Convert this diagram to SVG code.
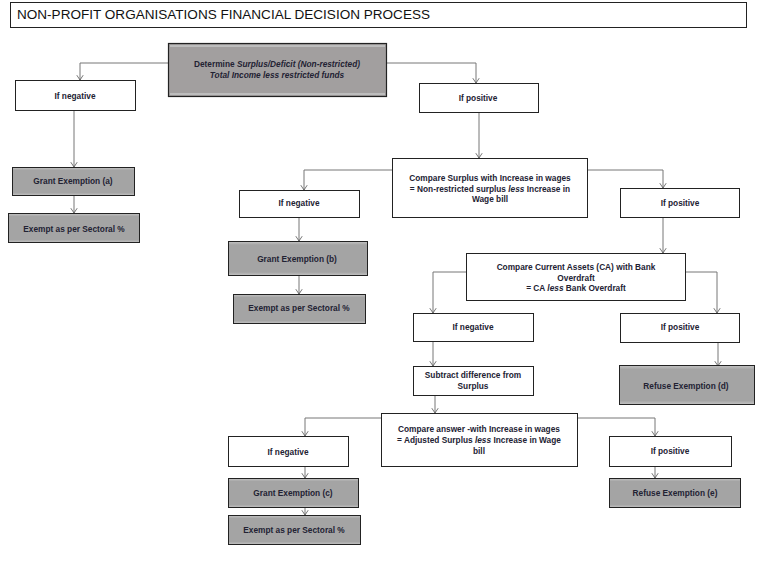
<svg xmlns="http://www.w3.org/2000/svg" width="766" height="571" viewBox="0 0 766 571">
<defs>
<linearGradient id="g" x1="0" y1="0" x2="0" y2="1">
<stop offset="0" stop-color="#c4c4c4"/><stop offset="0.1" stop-color="#a4a4a4"/><stop offset="0.9" stop-color="#a4a4a4"/><stop offset="1" stop-color="#c4c4c4"/>
</linearGradient>
<marker id="v" viewBox="-5 -7 10 8" refX="0" refY="0" markerWidth="8" markerHeight="6.4" markerUnits="userSpaceOnUse" orient="0">
<path d="M-4,-6 L0,0 L4,-6" fill="none" stroke="#555" stroke-width="1"/>
</marker>
</defs>
<style>
.w{fill:#fff;stroke:#222;stroke-width:1}
.gr{fill:url(#g);stroke:#222;stroke-width:1}
.t{font-family:"Liberation Sans",Arial,sans-serif;font-size:8.3px;font-weight:bold;fill:#222233;text-anchor:middle}
.i{font-style:italic}
.c{fill:none;stroke:#777;stroke-width:1;marker-end:url(#v)}
</style>
<rect width="766" height="571" fill="#fff"/>
<g id="title">
<rect x="10.5" y="2.5" width="736" height="25" fill="#fff" stroke="#222" stroke-width="1"/>
<text x="17" y="19" font-family="'Liberation Sans',Arial,sans-serif" font-size="12.5" fill="#111" textLength="413" lengthAdjust="spacingAndGlyphs">NON-PROFIT ORGANISATIONS FINANCIAL DECISION PROCESS</text>
</g>
<g id="connectors">
<path class="c" d="M168,63 H80 V80"/>
<path class="c" d="M387,63 H476 V83"/>
<path class="c" d="M74,110 V167"/>
<path class="c" d="M74,196 V213"/>
<path class="c" d="M479,113 V158"/>
<path class="c" d="M392,170 H304 V190"/>
<path class="c" d="M588,170 H663 V188"/>
<path class="c" d="M299,217 V241"/>
<path class="c" d="M299,276 V294"/>
<path class="c" d="M663,218 V253"/>
<path class="c" d="M466,272 H433 V313"/>
<path class="c" d="M686,272 H717 V313"/>
<path class="c" d="M433,341 V366"/>
<path class="c" d="M718,342 V366"/>
<path class="c" d="M435,395 V413"/>
<path class="c" d="M381,418 H305 V436"/>
<path class="c" d="M577,418 H655 V436"/>
<path class="c" d="M305,466 V478"/>
<path class="c" d="M305,507 V515"/>
<path class="c" d="M655,466 V478"/>
</g>
<g id="n_start">
<rect x="168.5" y="43.5" width="218" height="53" fill="#a29f9f" stroke="#222" stroke-width="1.2"/>
<rect x="170" y="45" width="215" height="2" fill="#bdbdbd"/><rect x="170" y="93" width="215" height="2" fill="#bdbdbd"/>
<text class="t" x="277" y="67">Determine <tspan class="i">Surplus/Deficit (Non-restricted)</tspan></text>
<text class="t i" x="277" y="78">Total Income less restricted funds</text>
</g>
<g id="n_neg1"><rect class="w" x="15.5" y="80.5" width="120" height="30"/><text class="t" x="75" y="99">If negative</text></g>
<g id="n_granta"><rect class="gr" x="12.5" y="167.5" width="122" height="28"/><text class="t" x="73" y="184">Grant Exemption (a)</text></g>
<g id="n_exempta"><rect class="gr" x="8.5" y="213.5" width="131" height="29"/><text class="t" x="74" y="232">Exempt as per Sectoral %</text></g>
<g id="n_pos1"><rect class="w" x="419.5" y="83.5" width="119" height="29"/><text class="t" x="478" y="101">If positive</text></g>
<g id="n_cmp1"><rect class="w" x="392.5" y="158.5" width="195" height="59"/>
<text class="t" x="490" y="181">Compare Surplus with Increase in wages</text>
<text class="t" x="490" y="191.5">= Non-restricted surplus <tspan class="i">less</tspan> Increase in</text>
<text class="t" x="490" y="201.5">Wage bill</text></g>
<g id="n_neg2"><rect class="w" x="239.5" y="190.5" width="120" height="27"/><text class="t" x="299" y="206">If negative</text></g>
<g id="n_grantb"><rect class="gr" x="228.5" y="241.5" width="139" height="34"/><text class="t" x="297" y="262">Grant Exemption (b)</text></g>
<g id="n_exemptb"><rect class="gr" x="233.5" y="294.5" width="132" height="29"/><text class="t" x="299" y="311">Exempt as per Sectoral %</text></g>
<g id="n_pos2"><rect class="w" x="620.5" y="188.5" width="119" height="29"/><text class="t" x="680" y="206">If positive</text></g>
<g id="n_cmp2"><rect class="w" x="466.5" y="253.5" width="219" height="47"/>
<text class="t" x="576" y="270">Compare Current Assets (CA) with Bank</text>
<text class="t" x="576" y="280.5">Overdraft</text>
<text class="t" x="576" y="291">= CA <tspan class="i">less</tspan> Bank Overdraft</text></g>
<g id="n_neg3"><rect class="w" x="413.5" y="313.5" width="120" height="28"/><text class="t" x="473" y="330">If negative</text></g>
<g id="n_pos3"><rect class="w" x="620.5" y="313.5" width="119" height="29"/><text class="t" x="680" y="330">If positive</text></g>
<g id="n_refused"><rect class="gr" x="619.5" y="365.5" width="135" height="39"/><text class="t" x="686" y="389">Refuse Exemption (d)</text></g>
<g id="n_sub"><rect class="w" x="413.5" y="366.5" width="120" height="29"/>
<text class="t" x="473" y="378">Subtract difference from</text>
<text class="t" x="473" y="389">Surplus</text></g>
<g id="n_cmp3"><rect class="w" x="381.5" y="413.5" width="196" height="53"/>
<text class="t" x="479" y="432">Compare answer -with Increase in wages</text>
<text class="t" x="479" y="443">= Adjusted Surplus <tspan class="i">less</tspan> Increase in Wage</text>
<text class="t" x="479" y="454">bill</text></g>
<g id="n_neg4"><rect class="w" x="228.5" y="436.5" width="120" height="30"/><text class="t" x="288" y="455">If negative</text></g>
<g id="n_grantc"><rect class="gr" x="228.5" y="478.5" width="130" height="29"/><text class="t" x="293" y="496">Grant Exemption (c)</text></g>
<g id="n_exemptc"><rect class="gr" x="228.5" y="515.5" width="132" height="29"/><text class="t" x="294" y="533">Exempt as per Sectoral %</text></g>
<g id="n_pos4"><rect class="w" x="609.5" y="436.5" width="122" height="30"/><text class="t" x="670" y="454">If positive</text></g>
<g id="n_refusee"><rect class="gr" x="609.5" y="478.5" width="131" height="29"/><text class="t" x="675" y="496">Refuse Exemption (e)</text></g>
</svg>
